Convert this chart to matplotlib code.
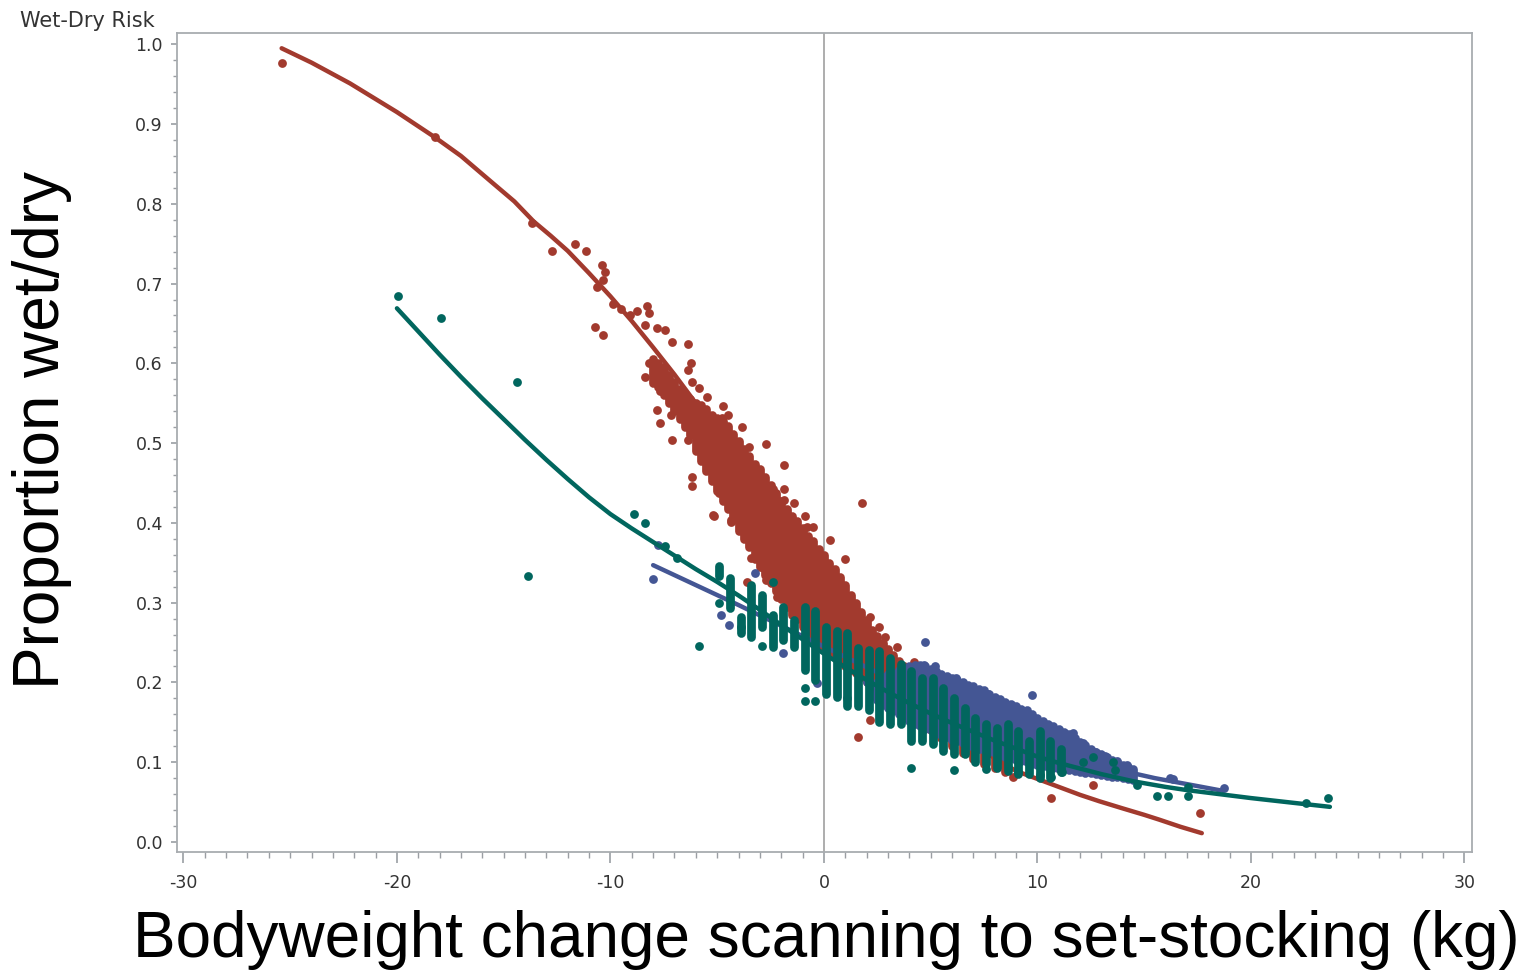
import matplotlib
matplotlib.use("Agg")
import matplotlib.pyplot as plt
from matplotlib.ticker import MultipleLocator, FormatStrFormatter

plt.rcParams["axes.unicode_minus"] = False

RED = "#A23A2E"
BLUE = "#445694"
GREEN = "#01665E"

# ---- fitted curves ----
red_fit_x = [-25.4, -24.0, -22.2, -20.0, -18.2, -17.0, -15.6, -14.5, -13.6, -12.8, -12.0,
             -11.0, -10.0, -9.0, -8.0, -7.0, -6.0, -5.0, -4.0, -3.0, -2.0, -1.0, 0.0,
             1.0, 2.0, 3.0, 4.0, 5.0, 6.0, 7.0, 8.0, 9.0, 10.0, 11.0, 12.0, 12.9, 14.0,
             15.0, 15.7, 16.7, 17.7]
red_fit_y = [0.995, 0.977, 0.951, 0.915, 0.883, 0.860, 0.828, 0.803, 0.778, 0.760, 0.741,
             0.713, 0.684, 0.653, 0.620, 0.586, 0.550, 0.511, 0.470, 0.430, 0.390, 0.349, 0.310,
             0.273, 0.240, 0.211, 0.185, 0.162, 0.142, 0.123, 0.105, 0.089, 0.079, 0.069, 0.059,
             0.051, 0.042, 0.034, 0.028, 0.019, 0.011]

blue_fit_x = [-8.0, -6.0, -4.0, -2.0, 0.0, 2.0, 4.0, 6.0, 8.0, 10.0, 12.0, 13.2, 14.5, 15.5,
              16.5, 17.5, 18.7]
blue_fit_y = [0.347, 0.322, 0.297, 0.271, 0.245, 0.219, 0.194, 0.170, 0.147, 0.126, 0.107,
              0.097, 0.086, 0.080, 0.075, 0.070, 0.064]

green_fit_x = [-20.0, -19.0, -18.0, -17.0, -16.0, -15.0, -14.0, -13.0, -12.0, -11.0, -10.0,
               -9.0, -8.0, -7.0, -6.0, -5.0, -4.0, -3.0, -2.0, -1.0, 0.0, 1.0, 2.0, 3.0,
               4.0, 5.0, 6.0, 7.0, 8.0, 9.0, 10.0, 11.0, 12.0, 13.0, 14.5, 16.0, 17.0,
               18.5, 20.0, 22.0, 23.7]
green_fit_y = [0.669, 0.640, 0.611, 0.583, 0.556, 0.530, 0.504, 0.479, 0.455, 0.432, 0.411,
               0.393, 0.376, 0.359, 0.342, 0.326, 0.309, 0.291, 0.272, 0.254, 0.236, 0.219,
               0.203, 0.188, 0.174, 0.161, 0.149, 0.138, 0.127, 0.117, 0.107, 0.099, 0.092,
               0.085, 0.076, 0.069, 0.065, 0.060, 0.055, 0.049, 0.044]

# ---- single observations ----
red_pts_x = [-25.39, -18.22, -13.69, -12.75, -11.66, -11.15, -10.41, -10.26, -10.35, -10.65,
             -10.73, -10.37, -9.9, -9.5, -9.1, -8.74, -8.28, -8.18, -8.38, -7.84,
             -7.45, -7.13, -6.36, -8.38, -7.68, -8.18, -7.84, -7.68, -7.17, -7.13,
             -6.24, -6.36, -6.2, -5.84, -5.49, -4.72, -4.76, -3.85, -2.73, -1.87,
             -6.2, -6.2, -5.68, -6.36, -4.9, -5.15, -4.37, -2.37, -1.87, -2.37,
             -1.87, -0.89, -0.81, -5.18, -4.37, -3.43, -2.92, -3.62, -2.22, 1.77,
             2.15, 1.61, 2.86, 2.15, 8.84, 10.66, 12.61, 17.6, -2.72,
             -0.5, 0.3, 1.0, 2.6, 3.4, -1.4, -3.5, -4.5, 4.2, 5.3, 0.8, -0.3]
red_pts_y = [0.977, 0.884, 0.776, 0.741, 0.750, 0.741, 0.723, 0.715, 0.705, 0.696,
             0.646, 0.636, 0.675, 0.668, 0.66, 0.666, 0.672, 0.663, 0.648, 0.644,
             0.642, 0.627, 0.624, 0.583, 0.565, 0.600, 0.542, 0.525, 0.535, 0.504,
             0.601, 0.592, 0.577, 0.569, 0.558, 0.546, 0.532, 0.52, 0.499, 0.473,
             0.458, 0.446, 0.499, 0.504, 0.438, 0.409, 0.404, 0.443, 0.443, 0.427,
             0.429, 0.408, 0.395, 0.41, 0.401, 0.356, 0.345, 0.326, 0.307, 0.425,
             0.153, 0.131, 0.257, 0.282, 0.082, 0.055, 0.071, 0.036, 0.329,
             0.395, 0.378, 0.355, 0.27, 0.245, 0.425, 0.495, 0.535, 0.225, 0.2, 0.232, 0.245]

blue_pts_x = [-8.02, -7.76, -3.23, -4.84, -4.44, -1.93, -0.34, 1.06, 4.73, 4.68, 5.2, 6.21,
              6.99, 7.7, 9.73, 10.43, 11.68, 12.15, 12.69, 13.16, 13.71, 14.18, 16.2,
              16.36, 18.74, 2.0, 3.0]
blue_pts_y = [0.33, 0.372, 0.337, 0.285, 0.272, 0.237, 0.199, 0.18, 0.251, 0.222, 0.22, 0.205,
              0.193, 0.186, 0.184, 0.147, 0.136, 0.124, 0.113, 0.108, 0.101, 0.0965, 0.08,
              0.079, 0.067, 0.20, 0.19]

green_pts_x = [-19.94, -17.94, -14.36, -13.85, -8.9, -8.38, -7.45, -6.9, -5.85, -2.92,
               -2.4, -0.9, -0.9, -0.4, 4.1, 6.1, 7.6, 9.1, 10.1, 10.66,
               11.13, 12.15, 12.61, 13.55, 13.63, 14.65, 15.58, 16.13, 17.07, 17.07,
               22.6, 23.6, -3.9, -4.9]
green_pts_y = [0.684, 0.657, 0.576, 0.334, 0.411, 0.40, 0.371, 0.356, 0.246, 0.246,
               0.326, 0.193, 0.177, 0.177, 0.093, 0.09, 0.092, 0.088, 0.084, 0.082,
               0.088, 0.10, 0.107, 0.10, 0.09, 0.071, 0.057, 0.057, 0.069, 0.057,
               0.049, 0.055, 0.27, 0.299]

# ---- stacked points: for each x, lowest and highest value of the stack ----
red_col_x = [-8.0, -7.75, -7.5, -7.25, -7.0, -6.75, -6.5, -6.25, -6.0, -5.75,
             -5.5, -5.25, -5.0, -4.75, -4.5, -4.25, -4.0, -3.75, -3.5, -3.25,
             -3.0, -2.75, -2.5, -2.25, -2.0, -1.75, -1.5, -1.25, -1.0, -0.75,
             -0.5, -0.25, 0.0, 0.25, 0.5, 0.75, 1.0, 1.25, 1.5, 1.75,
             2.0, 2.25, 2.5, 2.75, 3.0, 3.25, 3.5, 3.75, 4.0, 4.25,
             4.5, 4.75, 5.0, 5.5, 6.0, 6.5, 7.0, 7.5, 8.0, 8.5]
red_col_lo = [0.575, 0.57, 0.56, 0.55, 0.54, 0.53, 0.52, 0.51, 0.49, 0.478,
              0.465, 0.452, 0.44, 0.428, 0.418, 0.403, 0.39, 0.38, 0.37, 0.355,
              0.345, 0.335, 0.325, 0.315, 0.305, 0.295, 0.285, 0.28, 0.27, 0.265,
              0.258, 0.25, 0.242, 0.237, 0.232, 0.227, 0.22, 0.216, 0.212, 0.207,
              0.2, 0.196, 0.19, 0.185, 0.18, 0.175, 0.17, 0.165, 0.16, 0.155,
              0.15, 0.145, 0.14, 0.13, 0.12, 0.112, 0.104, 0.098, 0.093, 0.088]
red_col_hi = [0.605, 0.60, 0.595, 0.585, 0.577, 0.568, 0.562, 0.555, 0.55, 0.548,
              0.543, 0.535, 0.532, 0.528, 0.522, 0.512, 0.503, 0.493, 0.484, 0.474,
              0.468, 0.458, 0.448, 0.438, 0.428, 0.418, 0.408, 0.402, 0.393, 0.383,
              0.377, 0.367, 0.36, 0.35, 0.342, 0.332, 0.322, 0.31, 0.3, 0.288,
              0.278, 0.266, 0.258, 0.25, 0.242, 0.234, 0.227, 0.22, 0.213, 0.207,
              0.201, 0.196, 0.19, 0.178, 0.165, 0.152, 0.14, 0.13, 0.12, 0.11]

blue_col_x = [2.5, 2.75, 3.0, 3.25, 3.5, 3.75, 4.0, 4.25, 4.5, 4.75,
              5.0, 5.25, 5.5, 5.75, 6.0, 6.25, 6.5, 6.75, 7.0, 7.25,
              7.5, 7.75, 8.0, 8.25, 8.5, 8.75, 9.0, 9.25, 9.5, 9.75,
              10.0, 10.25, 10.5, 10.75, 11.0, 11.25, 11.5, 11.75, 12.0, 12.25,
              12.5, 12.75, 13.0, 13.25, 13.5, 13.75, 14.0, 14.25, 14.5]
blue_col_lo = [0.178, 0.172, 0.168, 0.164, 0.16, 0.156, 0.152, 0.148, 0.145, 0.142,
               0.14, 0.137, 0.134, 0.131, 0.128, 0.126, 0.124, 0.121, 0.119, 0.117,
               0.115, 0.113, 0.111, 0.109, 0.107, 0.105, 0.103, 0.102, 0.10, 0.098,
               0.097, 0.095, 0.094, 0.093, 0.092, 0.091, 0.09, 0.089, 0.088, 0.087,
               0.086, 0.085, 0.084, 0.083, 0.082, 0.081, 0.08, 0.079, 0.078]
blue_col_hi = [0.2, 0.205, 0.21, 0.212, 0.215, 0.218, 0.22, 0.222, 0.222, 0.22,
               0.217, 0.214, 0.21, 0.208, 0.205, 0.203, 0.2, 0.197, 0.195, 0.192,
               0.19, 0.186, 0.182, 0.179, 0.176, 0.173, 0.17, 0.167, 0.165, 0.16,
               0.155, 0.151, 0.148, 0.145, 0.141, 0.138, 0.135, 0.13, 0.125, 0.121,
               0.117, 0.113, 0.11, 0.106, 0.103, 0.1, 0.097, 0.094, 0.092]

green_col_x = [-4.9, -4.4, -3.9, -3.4, -2.9, -2.4, -1.9, -1.4, -0.9, -0.4,
               0.1, 0.6, 1.1, 1.6, 2.1, 2.6, 3.1, 3.6, 4.1, 4.6,
               5.1, 5.6, 6.1, 6.6, 7.1, 7.6, 8.1, 8.6, 9.1, 9.6,
               10.1, 10.6, 11.1]
green_col_lo = [0.333, 0.293, 0.262, 0.257, 0.27, 0.245, 0.253, 0.245, 0.216, 0.203,
                0.186, 0.182, 0.17, 0.17, 0.166, 0.15, 0.148, 0.148, 0.127, 0.127,
                0.123, 0.114, 0.11, 0.11, 0.10, 0.098, 0.093, 0.089, 0.085, 0.085,
                0.08, 0.08, 0.088]
green_col_hi = [0.346, 0.331, 0.282, 0.322, 0.31, 0.285, 0.295, 0.278, 0.295, 0.289,
                0.27, 0.264, 0.262, 0.243, 0.241, 0.239, 0.231, 0.223, 0.214, 0.206,
                0.206, 0.193, 0.18, 0.168, 0.155, 0.148, 0.143, 0.148, 0.139, 0.127,
                0.139, 0.127, 0.117]

x_ticks = [-30, -20, -10, 0, 10, 20, 30]
y_ticks = [0.0, 0.1, 0.2, 0.3, 0.4, 0.5, 0.6, 0.7, 0.8, 0.9, 1.0]

# -------------------------
# Plotting
# -------------------------

fig = plt.figure(figsize=(15.36, 9.73), dpi=100)
ax = fig.add_axes([0.1154, 0.1247, 0.8427, 0.8411])

DOT = 40       # marker area (pt^2), ~9 px dots
STACK_W = 6.3  # width of stacked dots (pt)

ax.axvline(0, color="#a0a0a0", lw=1.2, zorder=0.5)

# each group: stacked points, single points, then its fit line just above them
for cx, lo, hi, px, py, fx, fy, c, z in [
    (red_col_x, red_col_lo, red_col_hi, red_pts_x, red_pts_y, red_fit_x, red_fit_y, RED, 2),
    (blue_col_x, blue_col_lo, blue_col_hi, blue_pts_x, blue_pts_y, blue_fit_x, blue_fit_y, BLUE, 3),
    (green_col_x, green_col_lo, green_col_hi, green_pts_x, green_pts_y, green_fit_x, green_fit_y, GREEN, 4),
]:
    ax.vlines(cx, lo, hi, colors=c, linewidth=STACK_W, capstyle="round", zorder=z)
    ax.scatter(px, py, s=DOT, color=c, linewidths=0, zorder=z)
    ax.plot(fx, fy, color=c, lw=3.2, solid_capstyle="round", zorder=z + 0.5)

ax.set_xlim(-30.29, 30.34)
ax.set_ylim(-0.0122, 1.0138)
ax.set_xticks(x_ticks)
ax.set_yticks(y_ticks)
ax.xaxis.set_minor_locator(MultipleLocator(1))
ax.yaxis.set_minor_locator(MultipleLocator(0.02))
ax.yaxis.set_major_formatter(FormatStrFormatter("%.1f"))

for s in ax.spines.values():
    s.set_color("#a8acb0")
    s.set_linewidth(1.3)

tick_col = "#9a9ea3"
ax.tick_params(axis="x", which="major", length=8, width=1.2, color=tick_col,
               pad=8, labelsize=12.5, labelcolor="#333333")
ax.tick_params(axis="x", which="minor", length=4.3, width=1.0, color=tick_col)
ax.tick_params(axis="y", which="major", length=4.3, width=1.2, color=tick_col,
               pad=6, labelsize=12.5, labelcolor="#333333")
ax.tick_params(axis="y", which="minor", length=2.9, width=1.0, color=tick_col)

fig.text(20 / 1536, 1 - 27.3 / 973, "Wet-Dry Risk", fontsize=15, color="#333333",
         ha="left", va="baseline")

fig.text(42.5 / 1536, 1 - 430 / 973, "Proportion wet/dry", rotation=90,
         family="Liberation Sans", fontsize=46, ha="center", va="center")
fig.text(826 / 1536, 1 - 940 / 973, "Bodyweight change scanning to set-stocking (kg)",
         family="Liberation Sans", fontsize=46, ha="center", va="center")

fig.savefig("out.png", dpi=100)
